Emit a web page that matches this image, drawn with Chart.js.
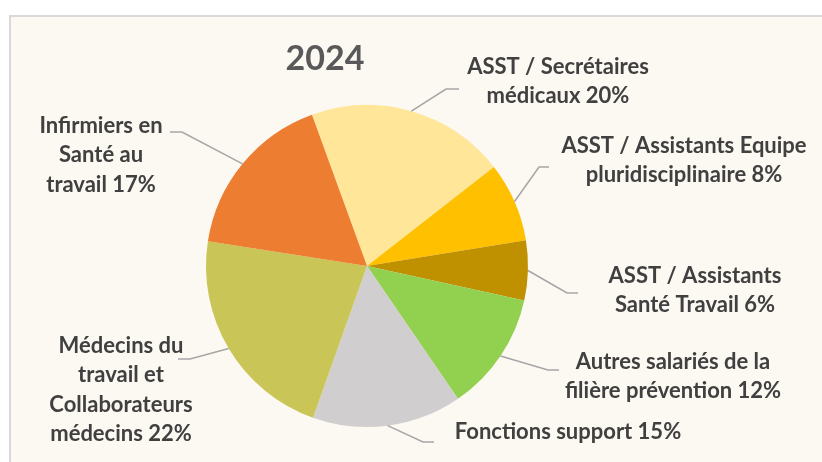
<!DOCTYPE html>
<html>
<head>
<meta charset="utf-8">
<script src="https://cdn.jsdelivr.net/npm/chart.js@4"></script>
<style>
html,body{margin:0;padding:0;background:#ffffff;}
#c{display:block;}
</style>
</head>
<body>
<canvas id="c" width="822" height="462"></canvas>
<script>
// ---- data ----
const TITLE = '2024';
const CATEGORIES = [
  'ASST / Secrétaires médicaux',
  'ASST / Assistants Equipe pluridisciplinaire',
  'ASST / Assistants Santé Travail',
  'Autres salariés de la filière prévention',
  'Fonctions support',
  'Médecins du travail et Collaborateurs médecins',
  'Infirmiers en Santé au travail'
];
const VALUES = [20, 8, 6, 12, 15, 22, 17];
const COLORS = ['#FFE699', '#FFC000', '#BF9000', '#92D050', '#D0CECE', '#C9C556', '#ED7D31'];
// label line breaks (text shown as wrapped by the original)
const LABEL_LINES = [
  ['ASST / Secrétaires', 'médicaux'],
  ['ASST / Assistants Equipe', 'pluridisciplinaire'],
  ['ASST / Assistants', 'Santé Travail'],
  ['Autres salariés de la', 'filière prévention'],
  ['Fonctions support'],
  ['Médecins du', 'travail et', 'Collaborateurs', 'médecins'],
  ['Infirmiers en', 'Santé au', 'travail']
];

// ---- label layout (relative to pie centre, px) ----
const LABEL_LAYOUT = [
  {ex:79,   ey:-177, end:92,   tx:191,  ty:-199},
  {ex:172,  ey:-99,  end:182,  tx:317,  ty:-120},
  {ex:200,  ey:27,   end:211,  tx:328,  ty:10},
  {ex:181,  ey:104,  end:192,  tx:306,  ty:96},
  {ex:56,   ey:176,  end:67,   tx:201,  ty:166},
  {ex:-177, ey:93,   end:-189, tx:-246, ty:80},
  {ex:-185, ey:-134, end:-197, tx:-266, ty:-140}
];

const total = VALUES.reduce((a,b)=>a+b,0);

const decorPlugin = {
  id:'decor',
  beforeDraw(chart){
    const ctx = chart.ctx;
    ctx.save();
    ctx.fillStyle = '#ffffff';
    ctx.fillRect(0,0,chart.width,chart.height);
    ctx.fillStyle = '#FCF8F2';
    ctx.fillRect(9,15,chart.width,chart.height);
    ctx.strokeStyle = '#D9D9D9';
    ctx.lineWidth = 2;
    ctx.beginPath();
    ctx.moveTo(10, chart.height+2);
    ctx.lineTo(10, 16);
    ctx.lineTo(chart.width+2, 16);
    ctx.stroke();
    ctx.restore();
  },
  afterDraw(chart){
    const ctx = chart.ctx;
    const meta = chart.getDatasetMeta(0);
    ctx.save();
    // title
    ctx.fillStyle = '#595959';
    ctx.font = 'bold 34px Lato';
    ctx.textAlign = 'center';
    ctx.textBaseline = 'middle';
    ctx.fillText(TITLE, 325, 59);
    // labels + leaders
    meta.data.forEach((arc, i) => {
      const L = LABEL_LAYOUT[i];
      const cx = arc.x, cy = arc.y, r = arc.outerRadius;
      const a = (arc.startAngle + arc.endAngle) / 2;
      const sx = cx + Math.cos(a) * r, sy = cy + Math.sin(a) * r;
      ctx.strokeStyle = '#A6A6A6';
      ctx.lineWidth = 1.5;
      ctx.beginPath();
      ctx.moveTo(sx, sy);
      ctx.lineTo(cx + L.ex, cy + L.ey);
      ctx.lineTo(cx + L.end, cy + L.ey);
      ctx.stroke();
      const pct = Math.round(VALUES[i] / total * 100) + '%';
      const lines = LABEL_LINES[i].slice();
      lines[lines.length-1] = lines[lines.length-1] + ' ' + pct;
      ctx.fillStyle = '#404040';
      ctx.font = 'bold 22px Lato';
      ctx.textAlign = 'center';
      ctx.textBaseline = 'middle';
      lines.forEach((t, k) => {
        ctx.fillText(t, cx + L.tx, cy + L.ty + k * 29.3);
      });
    });
    ctx.restore();
  }
};

new Chart(document.getElementById('c'), {
  type: 'pie',
  data: {
    labels: CATEGORIES,
    datasets: [{
      data: VALUES,
      backgroundColor: COLORS,
      borderWidth: 0
    }]
  },
  options: {
    responsive: false,
    animation: false,
    rotation: -20,
    layout: { padding: { left: 206, right: 294, top: 105, bottom: 35 } },
    plugins: { legend: { display: false }, tooltip: { enabled: false }, title: { display: false } }
  },
  plugins: [decorPlugin]
});
</script>
</body>
</html>
